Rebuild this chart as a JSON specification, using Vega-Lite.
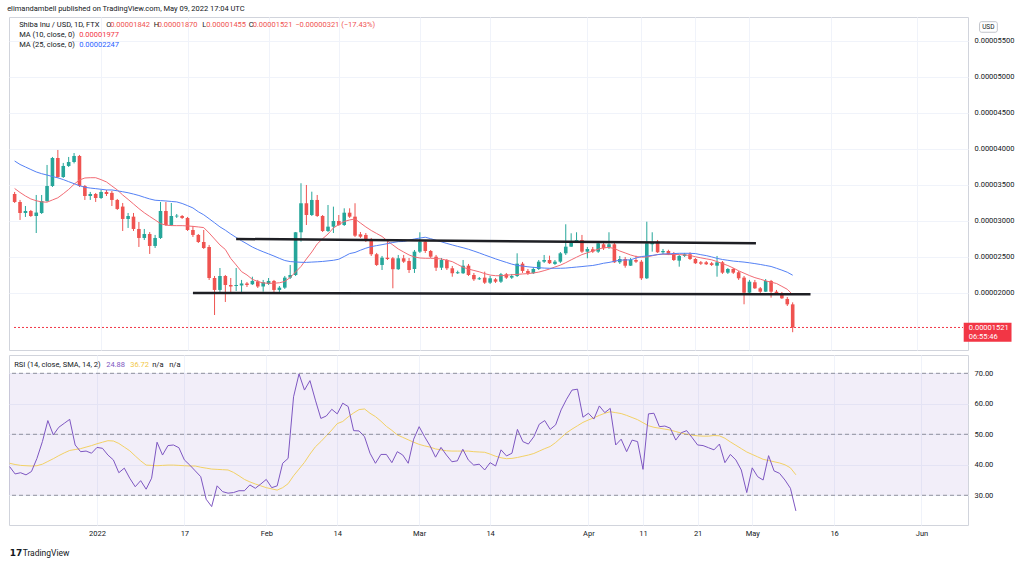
{
"$schema":"https://vega.github.io/schema/vega-lite/v6.json",
"background":"white",
"padding":{"left":7,"top":5,"right":4,"bottom":0},
"title":{"text":"elimandambell published on TradingView.com, May 09, 2022 17:04 UTC","anchor":"start","fontSize":7.5,"font":"Roboto","fontWeight":"normal","color":"#131722","offset":4},
"config":{"font":"Roboto","view":{"stroke":"#D1D4DC","strokeWidth":1},"axis":{"labelFont":"Roboto","labelFontSize":7.5,"labelColor":"#131722","gridColor":"#F0F3FA","gridWidth":1,"tickSize":0,"domain":false},"text":{"font":"Roboto","fontSize":7.5,"align":"left","baseline":"middle"}},
"datasets":{
"p":[
{"d":"2021-12-16","o":33.75e-6,"h":34.03e-6,"l":32.50e-6,"c":32.64e-6,"m10":34.51e-6,"m25":38.33e-6,"r":39.4,"rm":40.5},
{"d":"2021-12-17","o":32.64e-6,"h":32.92e-6,"l":30.14e-6,"c":31.11e-6,"m10":33.96e-6,"m25":37.85e-6,"r":37.0,"rm":40.1},
{"d":"2021-12-18","o":31.11e-6,"h":32.08e-6,"l":30.56e-6,"c":31.39e-6,"m10":33.47e-6,"m25":37.50e-6,"r":37.4,"rm":39.8},
{"d":"2021-12-19","o":31.39e-6,"h":31.53e-6,"l":30.56e-6,"c":30.69e-6,"m10":33.06e-6,"m25":37.15e-6,"r":36.7,"rm":39.7},
{"d":"2021-12-20","o":30.69e-6,"h":33.61e-6,"l":28.33e-6,"c":31.17e-6,"m10":32.81e-6,"m25":36.81e-6,"r":37.8,"rm":39.6},
{"d":"2021-12-21","o":31.11e-6,"h":33.61e-6,"l":30.97e-6,"c":32.78e-6,"m10":32.65e-6,"m25":36.57e-6,"r":42.1,"rm":39.7},
{"d":"2021-12-22","o":32.78e-6,"h":37.78e-6,"l":32.64e-6,"c":34.86e-6,"m10":32.61e-6,"m25":36.38e-6,"r":47.6,"rm":40.2},
{"d":"2021-12-23","o":34.86e-6,"h":38.89e-6,"l":34.72e-6,"c":38.75e-6,"m10":32.92e-6,"m25":36.17e-6,"r":54.5,"rm":41.1},
{"d":"2021-12-24","o":38.75e-6,"h":39.86e-6,"l":35.97e-6,"c":36.11e-6,"m10":33.22e-6,"m25":35.99e-6,"r":49.8,"rm":42.0},
{"d":"2021-12-25","o":36.11e-6,"h":38.06e-6,"l":35.97e-6,"c":37.64e-6,"m10":33.78e-6,"m25":35.75e-6,"r":52.3,"rm":43.0},
{"d":"2021-12-26","o":37.64e-6,"h":38.89e-6,"l":37.50e-6,"c":38.19e-6,"m10":34.38e-6,"m25":35.46e-6,"r":53.6,"rm":43.9},
{"d":"2021-12-27","o":38.19e-6,"h":39.44e-6,"l":38.00e-6,"c":39.03e-6,"m10":35.10e-6,"m25":35.18e-6,"r":54.9,"rm":44.7},
{"d":"2021-12-28","o":39.03e-6,"h":39.17e-6,"l":34.72e-6,"c":34.86e-6,"m10":35.69e-6,"m25":34.90e-6,"r":46.5,"rm":45.0},
{"d":"2021-12-29","o":34.86e-6,"h":35.00e-6,"l":32.92e-6,"c":33.47e-6,"m10":35.97e-6,"m25":34.68e-6,"r":44.3,"rm":45.3},
{"d":"2021-12-30","o":33.47e-6,"h":34.03e-6,"l":32.92e-6,"c":33.75e-6,"m10":36.01e-6,"m25":34.57e-6,"r":44.5,"rm":45.8},
{"d":"2021-12-31","o":33.75e-6,"h":33.89e-6,"l":32.64e-6,"c":33.19e-6,"m10":36.01e-6,"m25":34.49e-6,"r":43.8,"rm":46.3},
{"d":"2022-01-01","o":33.19e-6,"h":34.31e-6,"l":33.06e-6,"c":34.03e-6,"m10":35.74e-6,"m25":34.40e-6,"r":45.7,"rm":46.9},
{"d":"2022-01-02","o":34.03e-6,"h":34.31e-6,"l":33.47e-6,"c":33.75e-6,"m10":35.42e-6,"m25":34.31e-6,"r":45.4,"rm":47.4},
{"d":"2022-01-03","o":33.90e-6,"h":34.17e-6,"l":32.08e-6,"c":32.92e-6,"m10":34.86e-6,"m25":34.31e-6,"r":43.2,"rm":47.9},
{"d":"2022-01-04","o":32.92e-6,"h":33.06e-6,"l":31.53e-6,"c":31.67e-6,"m10":34.31e-6,"m25":34.19e-6,"r":41.6,"rm":47.8},
{"d":"2022-01-05","o":32.00e-6,"h":32.50e-6,"l":28.61e-6,"c":30.28e-6,"m10":33.61e-6,"m25":34.06e-6,"r":37.4,"rm":47.0},
{"d":"2022-01-06","o":30.28e-6,"h":31.11e-6,"l":29.03e-6,"c":30.69e-6,"m10":33.00e-6,"m25":33.92e-6,"r":38.9,"rm":45.8},
{"d":"2022-01-07","o":30.60e-6,"h":31.11e-6,"l":28.61e-6,"c":28.89e-6,"m10":32.36e-6,"m25":33.74e-6,"r":35.6,"rm":44.6},
{"d":"2022-01-08","o":28.89e-6,"h":29.86e-6,"l":26.39e-6,"c":27.64e-6,"m10":31.72e-6,"m25":33.54e-6,"r":32.8,"rm":42.9},
{"d":"2022-01-09","o":27.64e-6,"h":28.89e-6,"l":27.36e-6,"c":28.19e-6,"m10":31.14e-6,"m25":33.29e-6,"r":34.8,"rm":41.3},
{"d":"2022-01-10","o":28.19e-6,"h":28.47e-6,"l":25.42e-6,"c":26.53e-6,"m10":30.63e-6,"m25":33.06e-6,"r":32.0,"rm":39.9},
{"d":"2022-01-11","o":26.53e-6,"h":28.06e-6,"l":26.25e-6,"c":27.64e-6,"m10":30.14e-6,"m25":32.88e-6,"r":35.6,"rm":39.8},
{"d":"2022-01-12","o":27.64e-6,"h":32.64e-6,"l":27.50e-6,"c":31.39e-6,"m10":29.63e-6,"m25":32.83e-6,"r":47.4,"rm":39.7},
{"d":"2022-01-13","o":31.39e-6,"h":32.64e-6,"l":29.31e-6,"c":29.44e-6,"m10":29.42e-6,"m25":32.78e-6,"r":43.2,"rm":39.8},
{"d":"2022-01-14","o":29.44e-6,"h":32.50e-6,"l":29.31e-6,"c":30.69e-6,"m10":29.36e-6,"m25":32.71e-6,"r":46.3,"rm":39.9},
{"d":"2022-01-15","o":30.63e-6,"h":30.97e-6,"l":30.42e-6,"c":30.74e-6,"m10":29.35e-6,"m25":32.65e-6,"r":46.5,"rm":39.9},
{"d":"2022-01-16","o":30.69e-6,"h":30.83e-6,"l":30.28e-6,"c":30.42e-6,"m10":29.35e-6,"m25":32.43e-6,"r":45.6,"rm":39.8},
{"d":"2022-01-17","o":30.42e-6,"h":30.56e-6,"l":28.61e-6,"c":28.75e-6,"m10":29.31e-6,"m25":32.13e-6,"r":41.6,"rm":39.7},
{"d":"2022-01-18","o":28.75e-6,"h":29.31e-6,"l":27.78e-6,"c":28.06e-6,"m10":29.25e-6,"m25":31.81e-6,"r":39.9,"rm":39.6},
{"d":"2022-01-19","o":28.06e-6,"h":28.19e-6,"l":26.94e-6,"c":27.08e-6,"m10":29.17e-6,"m25":31.28e-6,"r":38.0,"rm":39.6},
{"d":"2022-01-20","o":27.08e-6,"h":28.75e-6,"l":26.11e-6,"c":26.25e-6,"m10":29.08e-6,"m25":30.86e-6,"r":36.1,"rm":39.2},
{"d":"2022-01-21","o":26.39e-6,"h":26.67e-6,"l":21.81e-6,"c":22.08e-6,"m10":28.33e-6,"m25":30.31e-6,"r":28.7,"rm":38.9},
{"d":"2022-01-22","o":22.08e-6,"h":22.36e-6,"l":16.94e-6,"c":20.42e-6,"m10":27.50e-6,"m25":29.75e-6,"r":26.3,"rm":38.6},
{"d":"2022-01-23","o":20.42e-6,"h":23.47e-6,"l":20.14e-6,"c":22.36e-6,"m10":26.67e-6,"m25":29.18e-6,"r":33.1,"rm":38.5},
{"d":"2022-01-24","o":22.36e-6,"h":22.50e-6,"l":18.75e-6,"c":21.11e-6,"m10":26.04e-6,"m25":28.72e-6,"r":31.2,"rm":38.4},
{"d":"2022-01-25","o":21.11e-6,"h":22.08e-6,"l":20.14e-6,"c":20.90e-6,"m10":24.79e-6,"m25":28.19e-6,"r":30.7,"rm":38.3},
{"d":"2022-01-26","o":20.97e-6,"h":23.47e-6,"l":20.28e-6,"c":21.11e-6,"m10":23.89e-6,"m25":27.71e-6,"r":30.9,"rm":37.5},
{"d":"2022-01-27","o":21.04e-6,"h":21.81e-6,"l":20.14e-6,"c":21.32e-6,"m10":22.96e-6,"m25":27.25e-6,"r":31.5,"rm":36.4},
{"d":"2022-01-28","o":21.32e-6,"h":21.53e-6,"l":20.83e-6,"c":21.11e-6,"m10":22.50e-6,"m25":26.82e-6,"r":31.5,"rm":35.2},
{"d":"2022-01-29","o":21.21e-6,"h":22.26e-6,"l":21.11e-6,"c":21.67e-6,"m10":21.89e-6,"m25":26.38e-6,"r":33.4,"rm":34.4},
{"d":"2022-01-30","o":21.60e-6,"h":21.81e-6,"l":20.69e-6,"c":20.90e-6,"m10":21.60e-6,"m25":26.03e-6,"r":32.3,"rm":33.7},
{"d":"2022-01-31","o":20.90e-6,"h":21.81e-6,"l":20.18e-6,"c":21.49e-6,"m10":21.39e-6,"m25":25.72e-6,"r":33.7,"rm":33.1},
{"d":"2022-02-01","o":21.25e-6,"h":22.08e-6,"l":21.11e-6,"c":21.67e-6,"m10":21.35e-6,"m25":25.43e-6,"r":35.2,"rm":32.5},
{"d":"2022-02-02","o":21.67e-6,"h":21.81e-6,"l":20.14e-6,"c":20.42e-6,"m10":21.35e-6,"m25":25.13e-6,"r":32.5,"rm":32.1},
{"d":"2022-02-03","o":20.42e-6,"h":20.97e-6,"l":20.14e-6,"c":20.74e-6,"m10":21.42e-6,"m25":24.81e-6,"r":33.1,"rm":31.7},
{"d":"2022-02-04","o":20.74e-6,"h":22.36e-6,"l":20.56e-6,"c":22.13e-6,"m10":21.60e-6,"m25":24.51e-6,"r":40.5,"rm":32.5},
{"d":"2022-02-05","o":22.13e-6,"h":23.89e-6,"l":21.94e-6,"c":22.50e-6,"m10":22.15e-6,"m25":24.36e-6,"r":42.1,"rm":33.8},
{"d":"2022-02-06","o":22.50e-6,"h":28.47e-6,"l":22.36e-6,"c":28.43e-6,"m10":22.92e-6,"m25":24.31e-6,"r":62.3,"rm":36.4},
{"d":"2022-02-07","o":28.43e-6,"h":35.24e-6,"l":27.13e-6,"c":32.46e-6,"m10":23.68e-6,"m25":24.26e-6,"r":69.8,"rm":38.6},
{"d":"2022-02-08","o":32.46e-6,"h":35.00e-6,"l":29.44e-6,"c":30.83e-6,"m10":24.72e-6,"m25":24.25e-6,"r":64.5,"rm":40.8},
{"d":"2022-02-09","o":30.83e-6,"h":34.07e-6,"l":30.69e-6,"c":32.92e-6,"m10":25.69e-6,"m25":24.29e-6,"r":67.6,"rm":43.5},
{"d":"2022-02-10","o":32.92e-6,"h":33.61e-6,"l":30.56e-6,"c":30.69e-6,"m10":26.81e-6,"m25":24.33e-6,"r":61.2,"rm":45.9},
{"d":"2022-02-11","o":30.69e-6,"h":30.83e-6,"l":28.47e-6,"c":28.61e-6,"m10":27.53e-6,"m25":24.38e-6,"r":55.2,"rm":47.6},
{"d":"2022-02-12","o":28.61e-6,"h":32.22e-6,"l":28.47e-6,"c":29.21e-6,"m10":28.19e-6,"m25":24.46e-6,"r":56.0,"rm":49.5},
{"d":"2022-02-13","o":29.21e-6,"h":31.99e-6,"l":28.33e-6,"c":30.00e-6,"m10":29.03e-6,"m25":24.54e-6,"r":58.2,"rm":51.4},
{"d":"2022-02-14","o":30.00e-6,"h":30.83e-6,"l":29.31e-6,"c":29.44e-6,"m10":29.51e-6,"m25":24.69e-6,"r":56.7,"rm":53.5},
{"d":"2022-02-15","o":29.44e-6,"h":31.76e-6,"l":29.31e-6,"c":31.15e-6,"m10":29.93e-6,"m25":25.07e-6,"r":60.2,"rm":54.2},
{"d":"2022-02-16","o":31.15e-6,"h":31.76e-6,"l":30.42e-6,"c":30.60e-6,"m10":30.14e-6,"m25":25.47e-6,"r":59.1,"rm":55.7},
{"d":"2022-02-17","o":30.60e-6,"h":32.46e-6,"l":27.78e-6,"c":27.96e-6,"m10":30.28e-6,"m25":25.63e-6,"r":51.2,"rm":57.0},
{"d":"2022-02-18","o":28.15e-6,"h":28.47e-6,"l":27.64e-6,"c":27.82e-6,"m10":29.72e-6,"m25":25.94e-6,"r":51.1,"rm":58.1},
{"d":"2022-02-19","o":28.06e-6,"h":28.33e-6,"l":27.08e-6,"c":27.36e-6,"m10":29.17e-6,"m25":26.22e-6,"r":49.2,"rm":58.3},
{"d":"2022-02-20","o":27.46e-6,"h":27.64e-6,"l":25.14e-6,"c":25.38e-6,"m10":28.68e-6,"m25":26.44e-6,"r":43.8,"rm":56.9},
{"d":"2022-02-21","o":25.38e-6,"h":25.56e-6,"l":23.75e-6,"c":23.89e-6,"m10":28.26e-6,"m25":26.58e-6,"r":40.5,"rm":55.8},
{"d":"2022-02-22","o":23.89e-6,"h":25.14e-6,"l":23.19e-6,"c":24.90e-6,"m10":27.85e-6,"m25":26.71e-6,"r":43.4,"rm":54.3},
{"d":"2022-02-23","o":24.90e-6,"h":27.36e-6,"l":24.58e-6,"c":24.72e-6,"m10":27.22e-6,"m25":26.85e-6,"r":43.4,"rm":52.6},
{"d":"2022-02-24","o":24.82e-6,"h":25.00e-6,"l":20.65e-6,"c":23.30e-6,"m10":26.67e-6,"m25":27.01e-6,"r":40.7,"rm":51.3},
{"d":"2022-02-25","o":23.30e-6,"h":25.28e-6,"l":23.20e-6,"c":24.82e-6,"m10":26.11e-6,"m25":27.13e-6,"r":44.3,"rm":49.8},
{"d":"2022-02-26","o":24.82e-6,"h":25.28e-6,"l":24.17e-6,"c":24.35e-6,"m10":25.69e-6,"m25":27.15e-6,"r":43.2,"rm":49.0},
{"d":"2022-02-27","o":24.44e-6,"h":24.86e-6,"l":22.78e-6,"c":23.19e-6,"m10":25.28e-6,"m25":27.33e-6,"r":40.5,"rm":48.2},
{"d":"2022-02-28","o":23.33e-6,"h":25.97e-6,"l":22.78e-6,"c":25.74e-6,"m10":25.00e-6,"m25":27.50e-6,"r":48.4,"rm":47.4},
{"d":"2022-03-01","o":25.74e-6,"h":28.43e-6,"l":25.56e-6,"c":27.13e-6,"m10":24.86e-6,"m25":27.63e-6,"r":52.5,"rm":46.7},
{"d":"2022-03-02","o":27.13e-6,"h":27.36e-6,"l":25.56e-6,"c":25.83e-6,"m10":24.82e-6,"m25":27.74e-6,"r":49.2,"rm":46.2},
{"d":"2022-03-03","o":25.83e-6,"h":25.97e-6,"l":24.86e-6,"c":25.04e-6,"m10":24.82e-6,"m25":27.54e-6,"r":46.2,"rm":45.8},
{"d":"2022-03-04","o":25.04e-6,"h":25.28e-6,"l":23.06e-6,"c":23.51e-6,"m10":24.79e-6,"m25":27.32e-6,"r":42.5,"rm":45.2},
{"d":"2022-03-05","o":23.51e-6,"h":24.86e-6,"l":23.19e-6,"c":24.58e-6,"m10":24.72e-6,"m25":27.10e-6,"r":45.7,"rm":44.9},
{"d":"2022-03-06","o":24.58e-6,"h":24.72e-6,"l":23.19e-6,"c":23.43e-6,"m10":24.54e-6,"m25":26.88e-6,"r":43.2,"rm":44.6},
{"d":"2022-03-07","o":23.43e-6,"h":23.75e-6,"l":22.26e-6,"c":22.74e-6,"m10":24.35e-6,"m25":26.67e-6,"r":41.0,"rm":44.5},
{"d":"2022-03-08","o":22.74e-6,"h":23.10e-6,"l":22.64e-6,"c":22.88e-6,"m10":23.96e-6,"m25":26.47e-6,"r":41.3,"rm":44.5},
{"d":"2022-03-09","o":22.74e-6,"h":24.58e-6,"l":22.64e-6,"c":23.79e-6,"m10":23.57e-6,"m25":26.28e-6,"r":45.1,"rm":44.5},
{"d":"2022-03-10","o":23.79e-6,"h":24.03e-6,"l":22.36e-6,"c":22.50e-6,"m10":23.32e-6,"m25":26.07e-6,"r":41.6,"rm":44.5},
{"d":"2022-03-11","o":22.50e-6,"h":22.78e-6,"l":21.67e-6,"c":21.90e-6,"m10":23.13e-6,"m25":25.82e-6,"r":39.9,"rm":44.3},
{"d":"2022-03-12","o":21.90e-6,"h":22.22e-6,"l":21.81e-6,"c":22.04e-6,"m10":22.94e-6,"m25":25.56e-6,"r":40.2,"rm":44.2},
{"d":"2022-03-13","o":22.13e-6,"h":22.96e-6,"l":21.25e-6,"c":21.43e-6,"m10":22.69e-6,"m25":25.28e-6,"r":38.3,"rm":44.1},
{"d":"2022-03-14","o":21.43e-6,"h":22.36e-6,"l":21.25e-6,"c":22.04e-6,"m10":22.49e-6,"m25":25.01e-6,"r":40.7,"rm":43.5},
{"d":"2022-03-15","o":21.90e-6,"h":22.08e-6,"l":21.39e-6,"c":21.57e-6,"m10":22.40e-6,"m25":24.74e-6,"r":39.6,"rm":42.8},
{"d":"2022-03-16","o":21.57e-6,"h":22.78e-6,"l":21.39e-6,"c":22.60e-6,"m10":22.39e-6,"m25":24.49e-6,"r":44.9,"rm":42.3},
{"d":"2022-03-17","o":22.60e-6,"h":22.78e-6,"l":21.95e-6,"c":22.13e-6,"m10":22.47e-6,"m25":24.25e-6,"r":42.9,"rm":42.0},
{"d":"2022-03-18","o":22.13e-6,"h":22.64e-6,"l":21.95e-6,"c":22.36e-6,"m10":22.53e-6,"m25":24.01e-6,"r":43.8,"rm":42.1},
{"d":"2022-03-19","o":22.36e-6,"h":25.51e-6,"l":22.22e-6,"c":24.07e-6,"m10":22.58e-6,"m25":23.83e-6,"r":51.6,"rm":42.4},
{"d":"2022-03-20","o":24.07e-6,"h":24.31e-6,"l":22.78e-6,"c":23.06e-6,"m10":22.64e-6,"m25":23.74e-6,"r":47.6,"rm":42.8},
{"d":"2022-03-21","o":23.06e-6,"h":23.33e-6,"l":22.50e-6,"c":22.74e-6,"m10":22.69e-6,"m25":23.64e-6,"r":46.8,"rm":43.2},
{"d":"2022-03-22","o":22.74e-6,"h":23.61e-6,"l":22.64e-6,"c":23.33e-6,"m10":22.78e-6,"m25":23.56e-6,"r":49.2,"rm":43.7},
{"d":"2022-03-23","o":23.33e-6,"h":24.58e-6,"l":23.19e-6,"c":24.35e-6,"m10":22.90e-6,"m25":23.51e-6,"r":53.3,"rm":44.5},
{"d":"2022-03-24","o":24.35e-6,"h":25.28e-6,"l":24.17e-6,"c":24.58e-6,"m10":23.10e-6,"m25":23.46e-6,"r":54.5,"rm":45.3},
{"d":"2022-03-25","o":24.58e-6,"h":25.18e-6,"l":24.03e-6,"c":24.13e-6,"m10":23.33e-6,"m25":23.43e-6,"r":51.6,"rm":46.0},
{"d":"2022-03-26","o":24.03e-6,"h":24.58e-6,"l":23.89e-6,"c":24.35e-6,"m10":23.61e-6,"m25":23.43e-6,"r":53.1,"rm":47.3},
{"d":"2022-03-27","o":24.35e-6,"h":25.69e-6,"l":24.17e-6,"c":25.51e-6,"m10":23.86e-6,"m25":23.43e-6,"r":58.0,"rm":48.9},
{"d":"2022-03-28","o":25.51e-6,"h":29.54e-6,"l":25.28e-6,"c":26.43e-6,"m10":24.21e-6,"m25":23.46e-6,"r":61.5,"rm":50.5},
{"d":"2022-03-29","o":26.43e-6,"h":28.29e-6,"l":26.39e-6,"c":27.22e-6,"m10":24.60e-6,"m25":23.53e-6,"r":64.5,"rm":51.7},
{"d":"2022-03-30","o":27.13e-6,"h":28.43e-6,"l":26.94e-6,"c":27.36e-6,"m10":24.97e-6,"m25":23.60e-6,"r":64.8,"rm":52.8},
{"d":"2022-03-31","o":27.36e-6,"h":28.06e-6,"l":25.56e-6,"c":25.74e-6,"m10":25.33e-6,"m25":23.67e-6,"r":55.6,"rm":53.9},
{"d":"2022-04-01","o":25.74e-6,"h":26.39e-6,"l":24.82e-6,"c":26.11e-6,"m10":25.58e-6,"m25":23.75e-6,"r":56.9,"rm":54.7},
{"d":"2022-04-02","o":26.07e-6,"h":26.39e-6,"l":25.56e-6,"c":25.74e-6,"m10":25.83e-6,"m25":23.82e-6,"r":55.0,"rm":55.4},
{"d":"2022-04-03","o":25.74e-6,"h":27.22e-6,"l":25.56e-6,"c":26.90e-6,"m10":26.08e-6,"m25":23.96e-6,"r":59.3,"rm":56.2},
{"d":"2022-04-04","o":26.76e-6,"h":27.22e-6,"l":25.97e-6,"c":26.21e-6,"m10":26.28e-6,"m25":24.13e-6,"r":57.1,"rm":56.9},
{"d":"2022-04-05","o":26.35e-6,"h":28.43e-6,"l":26.11e-6,"c":26.76e-6,"m10":26.32e-6,"m25":24.24e-6,"r":58.5,"rm":57.4},
{"d":"2022-04-06","o":26.76e-6,"h":26.94e-6,"l":24.17e-6,"c":24.26e-6,"m10":26.18e-6,"m25":24.40e-6,"r":46.5,"rm":57.1},
{"d":"2022-04-07","o":24.26e-6,"h":25.14e-6,"l":24.03e-6,"c":24.72e-6,"m10":25.83e-6,"m25":24.56e-6,"r":48.4,"rm":56.8},
{"d":"2022-04-08","o":24.72e-6,"h":25.00e-6,"l":23.51e-6,"c":23.79e-6,"m10":25.56e-6,"m25":24.58e-6,"r":44.3,"rm":56.2},
{"d":"2022-04-09","o":23.79e-6,"h":24.86e-6,"l":23.75e-6,"c":24.58e-6,"m10":25.28e-6,"m25":24.61e-6,"r":48.1,"rm":55.5},
{"d":"2022-04-10","o":24.58e-6,"h":25.18e-6,"l":24.17e-6,"c":24.35e-6,"m10":25.06e-6,"m25":24.85e-6,"r":47.6,"rm":54.8},
{"d":"2022-04-11","o":24.35e-6,"h":24.58e-6,"l":21.81e-6,"c":22.04e-6,"m10":24.97e-6,"m25":25.06e-6,"r":38.5,"rm":53.8},
{"d":"2022-04-12","o":22.04e-6,"h":29.90e-6,"l":21.94e-6,"c":26.90e-6,"m10":25.00e-6,"m25":25.14e-6,"r":56.7,"rm":52.8},
{"d":"2022-04-13","o":26.76e-6,"h":28.43e-6,"l":25.74e-6,"c":26.99e-6,"m10":25.17e-6,"m25":25.22e-6,"r":56.9,"rm":52.3},
{"d":"2022-04-14","o":27.13e-6,"h":27.36e-6,"l":25.56e-6,"c":25.65e-6,"m10":25.33e-6,"m25":25.33e-6,"r":52.5,"rm":52.0},
{"d":"2022-04-15","o":25.65e-6,"h":26.11e-6,"l":25.38e-6,"c":25.83e-6,"m10":25.39e-6,"m25":25.42e-6,"r":52.7,"rm":51.7},
{"d":"2022-04-16","o":25.83e-6,"h":26.00e-6,"l":25.28e-6,"c":25.38e-6,"m10":25.33e-6,"m25":25.44e-6,"r":52.0,"rm":51.4},
{"d":"2022-04-17","o":25.51e-6,"h":25.69e-6,"l":24.44e-6,"c":24.58e-6,"m10":25.35e-6,"m25":25.47e-6,"r":48.1,"rm":50.9},
{"d":"2022-04-18","o":24.49e-6,"h":25.28e-6,"l":23.65e-6,"c":25.14e-6,"m10":25.33e-6,"m25":25.51e-6,"r":50.5,"rm":50.4},
{"d":"2022-04-19","o":25.14e-6,"h":25.56e-6,"l":25.00e-6,"c":25.38e-6,"m10":25.29e-6,"m25":25.51e-6,"r":51.2,"rm":50.0},
{"d":"2022-04-20","o":25.38e-6,"h":25.65e-6,"l":24.58e-6,"c":24.72e-6,"m10":25.21e-6,"m25":25.51e-6,"r":48.9,"rm":49.7},
{"d":"2022-04-21","o":24.72e-6,"h":24.86e-6,"l":24.03e-6,"c":24.13e-6,"m10":25.03e-6,"m25":25.47e-6,"r":46.5,"rm":49.5},
{"d":"2022-04-22","o":24.26e-6,"h":24.44e-6,"l":23.89e-6,"c":24.07e-6,"m10":24.88e-6,"m25":25.32e-6,"r":46.3,"rm":49.4},
{"d":"2022-04-23","o":24.26e-6,"h":24.44e-6,"l":23.89e-6,"c":23.99e-6,"m10":24.74e-6,"m25":25.19e-6,"r":45.6,"rm":49.4},
{"d":"2022-04-24","o":24.13e-6,"h":24.31e-6,"l":23.75e-6,"c":23.89e-6,"m10":24.61e-6,"m25":25.01e-6,"r":44.9,"rm":49.6},
{"d":"2022-04-25","o":23.79e-6,"h":25.14e-6,"l":22.26e-6,"c":24.26e-6,"m10":24.36e-6,"m25":24.81e-6,"r":46.8,"rm":49.5},
{"d":"2022-04-26","o":24.26e-6,"h":24.44e-6,"l":22.64e-6,"c":22.82e-6,"m10":24.08e-6,"m25":24.65e-6,"r":40.7,"rm":48.7},
{"d":"2022-04-27","o":22.82e-6,"h":23.47e-6,"l":22.64e-6,"c":23.33e-6,"m10":23.81e-6,"m25":24.54e-6,"r":43.4,"rm":47.5},
{"d":"2022-04-28","o":23.33e-6,"h":23.47e-6,"l":22.64e-6,"c":22.82e-6,"m10":23.47e-6,"m25":24.43e-6,"r":41.6,"rm":46.4},
{"d":"2022-04-29","o":22.88e-6,"h":23.06e-6,"l":21.81e-6,"c":22.04e-6,"m10":23.08e-6,"m25":24.36e-6,"r":38.3,"rm":45.3},
{"d":"2022-04-30","o":22.13e-6,"h":22.36e-6,"l":18.43e-6,"c":20.04e-6,"m10":22.75e-6,"m25":24.29e-6,"r":30.9,"rm":44.2},
{"d":"2022-05-01","o":20.04e-6,"h":21.81e-6,"l":19.86e-6,"c":21.57e-6,"m10":22.42e-6,"m25":24.19e-6,"r":39.0,"rm":43.4},
{"d":"2022-05-02","o":21.49e-6,"h":21.81e-6,"l":20.56e-6,"c":20.65e-6,"m10":22.13e-6,"m25":24.08e-6,"r":36.1,"rm":42.6},
{"d":"2022-05-03","o":20.65e-6,"h":20.83e-6,"l":20.00e-6,"c":20.18e-6,"m10":21.92e-6,"m25":23.96e-6,"r":35.0,"rm":41.8},
{"d":"2022-05-04","o":20.18e-6,"h":21.94e-6,"l":20.14e-6,"c":21.67e-6,"m10":21.68e-6,"m25":23.82e-6,"r":43.0,"rm":41.4},
{"d":"2022-05-05","o":21.67e-6,"h":21.81e-6,"l":19.35e-6,"c":20.18e-6,"m10":21.50e-6,"m25":23.68e-6,"r":38.0,"rm":41.0},
{"d":"2022-05-06","o":20.18e-6,"h":20.42e-6,"l":19.72e-6,"c":19.90e-6,"m10":21.32e-6,"m25":23.43e-6,"r":37.2,"rm":40.6},
{"d":"2022-05-07","o":19.90e-6,"h":20.14e-6,"l":19.17e-6,"c":19.26e-6,"m10":20.92e-6,"m25":23.17e-6,"r":35.0,"rm":40.0},
{"d":"2022-05-08","o":19.17e-6,"h":19.44e-6,"l":18.19e-6,"c":18.42e-6,"m10":20.51e-6,"m25":22.88e-6,"r":32.3,"rm":39.0},
{"d":"2022-05-09","o":18.42e-6,"h":18.70e-6,"l":14.55e-6,"c":15.21e-6,"m10":19.77e-6,"m25":22.47e-6,"r":24.88,"rm":36.72}
],
"tl":[
{"ln":"up","t":"2022-01-26T00:00:00Z","p":27.5e-6},
{"ln":"up","t":"2022-05-02T04:48:00Z","p":26.92e-6},
{"ln":"lo","t":"2022-01-18T00:00:00Z","p":20.0e-6},
{"ln":"lo","t":"2022-05-12T07:12:00Z","p":19.82e-6}
]
},
"spacing":3,
"resolve":{"scale":{"x":"independent","y":"independent"}},
"vconcat":[
{
"width":959,"height":333,
"layer":[
{"data":{"name":"p"},"mark":{"type":"rule","strokeWidth":1,"clip":true},
 "encoding":{
  "x":{"field":"d","type":"temporal","title":null,"scale":{"type":"utc","nice":false,"domain":[{"year":2021,"month":12,"date":15,"hours":21,"minutes":12,"utc":true},{"year":2022,"month":6,"date":9,"hours":12,"minutes":30,"utc":true}]},
   "axis":{"labels":false,"grid":true,"ticks":false,"domain":false,"title":null,"values":[{"year":2022,"month":1,"date":1,"utc":true},{"year":2022,"month":1,"date":17,"utc":true},{"year":2022,"month":2,"date":1,"utc":true},{"year":2022,"month":2,"date":14,"utc":true},{"year":2022,"month":3,"date":1,"utc":true},{"year":2022,"month":3,"date":14,"utc":true},{"year":2022,"month":4,"date":1,"utc":true},{"year":2022,"month":4,"date":11,"utc":true},{"year":2022,"month":4,"date":21,"utc":true},{"year":2022,"month":5,"date":1,"utc":true},{"year":2022,"month":5,"date":16,"utc":true},{"year":2022,"month":6,"date":1,"utc":true}]}},
  "y":{"field":"l","type":"quantitative","title":null,"scale":{"domain":[12.08e-6,58.33e-6],"nice":false,"zero":false},
   "axis":{"orient":"right","title":null,"format":".8f","grid":true,"labelPadding":6,"values":[20e-6,25e-6,30e-6,35e-6,40e-6,45e-6,50e-6,55e-6]}},
  "y2":{"field":"h"},
  "color":{"condition":{"test":"datum.c >= datum.o","value":"#26A69A"},"value":"#EF5350"}}},
{"data":{"name":"p"},"mark":{"type":"bar","size":3.6,"clip":true},
 "encoding":{"x":{"field":"d","type":"temporal"},"y":{"field":"o","type":"quantitative"},"y2":{"field":"c"},
  "color":{"condition":{"test":"datum.c >= datum.o","value":"#26A69A"},"value":"#EF5350"}}},
{"data":{"name":"p"},"mark":{"type":"line","strokeWidth":1,"color":"#F26B74","clip":true},
 "encoding":{"x":{"field":"d","type":"temporal"},"y":{"field":"m10","type":"quantitative"}}},
{"data":{"name":"p"},"mark":{"type":"line","strokeWidth":1,"color":"#5481F5","clip":true},
 "encoding":{"x":{"field":"d","type":"temporal"},"y":{"field":"m25","type":"quantitative"}}},
{"data":{"name":"tl"},"mark":{"type":"line","strokeWidth":2.5,"color":"#1E1F24"},
 "encoding":{"x":{"field":"t","type":"temporal"},"y":{"field":"p","type":"quantitative"},"detail":{"field":"ln","type":"nominal"}}},
{"data":{"values":[{}]},"mark":{"type":"rect","color":"#F23645"},
 "encoding":{"x":{"datum":{"year":2022,"month":6,"date":9,"hours":15,"minutes":36,"utc":true},"type":"temporal"},"x2":{"datum":{"year":2022,"month":6,"date":18,"hours":12,"utc":true}},"y":{"datum":15.87e-6,"type":"quantitative"},"y2":{"datum":13.23e-6}}},
{"data":{"values":[{}]},"mark":{"type":"text","text":"0.00001521","color":"white"},
 "encoding":{"x":{"datum":{"year":2022,"month":6,"date":10,"hours":14,"utc":true},"type":"temporal"},"y":{"datum":15.18e-6,"type":"quantitative"}}},
{"data":{"values":[{}]},"mark":{"type":"text","text":"06:55:46","color":"white"},
 "encoding":{"x":{"datum":{"year":2022,"month":6,"date":10,"hours":14,"utc":true},"type":"temporal"},"y":{"datum":13.89e-6,"type":"quantitative"}}},
{"data":{"values":[{}]},"mark":{"type":"rect","fill":"white","stroke":"#B2B5BE","strokeWidth":0.8,"cornerRadius":2},
 "encoding":{"x":{"datum":{"year":2022,"month":6,"date":12,"hours":14,"utc":true},"type":"temporal"},"x2":{"datum":{"year":2022,"month":6,"date":15,"hours":21,"utc":true}},"y":{"datum":57.68e-6,"type":"quantitative"},"y2":{"datum":56.21e-6}}},
{"data":{"values":[{}]},"mark":{"type":"text","text":"USD","color":"#131722","fontSize":6.5,"align":"center"},
 "encoding":{"x":{"datum":{"year":2022,"month":6,"date":14,"hours":5,"utc":true},"type":"temporal"},"y":{"datum":56.94e-6,"type":"quantitative"}}},
{"data":{"values":[{}]},"mark":{"type":"text","text":"Shiba Inu / USD, 1D, FTX","color":"#131722"},
 "encoding":{"x":{"datum":{"year":2021,"month":12,"date":16,"hours":20,"utc":true},"type":"temporal"},"y":{"datum":57.22e-6,"type":"quantitative"}}},
{"data":{"values":[{}]},"mark":{"type":"text","text":"O","color":"#131722","dx":87},
 "encoding":{"x":{"datum":{"year":2021,"month":12,"date":16,"hours":20,"utc":true},"type":"temporal"},"y":{"datum":57.22e-6,"type":"quantitative"}}},
{"data":{"values":[{}]},"mark":{"type":"text","text":"0.00001842","color":"#EF5350","dx":91},
 "encoding":{"x":{"datum":{"year":2021,"month":12,"date":16,"hours":20,"utc":true},"type":"temporal"},"y":{"datum":57.22e-6,"type":"quantitative"}}},
{"data":{"values":[{}]},"mark":{"type":"text","text":"H","color":"#131722","dx":134.5},
 "encoding":{"x":{"datum":{"year":2021,"month":12,"date":16,"hours":20,"utc":true},"type":"temporal"},"y":{"datum":57.22e-6,"type":"quantitative"}}},
{"data":{"values":[{}]},"mark":{"type":"text","text":"0.00001870","color":"#EF5350","dx":138.5},
 "encoding":{"x":{"datum":{"year":2021,"month":12,"date":16,"hours":20,"utc":true},"type":"temporal"},"y":{"datum":57.22e-6,"type":"quantitative"}}},
{"data":{"values":[{}]},"mark":{"type":"text","text":"L","color":"#131722","dx":183},
 "encoding":{"x":{"datum":{"year":2021,"month":12,"date":16,"hours":20,"utc":true},"type":"temporal"},"y":{"datum":57.22e-6,"type":"quantitative"}}},
{"data":{"values":[{}]},"mark":{"type":"text","text":"0.00001455","color":"#EF5350","dx":187},
 "encoding":{"x":{"datum":{"year":2021,"month":12,"date":16,"hours":20,"utc":true},"type":"temporal"},"y":{"datum":57.22e-6,"type":"quantitative"}}},
{"data":{"values":[{}]},"mark":{"type":"text","text":"C","color":"#131722","dx":229.5},
 "encoding":{"x":{"datum":{"year":2021,"month":12,"date":16,"hours":20,"utc":true},"type":"temporal"},"y":{"datum":57.22e-6,"type":"quantitative"}}},
{"data":{"values":[{}]},"mark":{"type":"text","text":"0.00001521","color":"#EF5350","dx":233.5},
 "encoding":{"x":{"datum":{"year":2021,"month":12,"date":16,"hours":20,"utc":true},"type":"temporal"},"y":{"datum":57.22e-6,"type":"quantitative"}}},
{"data":{"values":[{}]},"mark":{"type":"text","text":"−0.00000321 (−17.43%)","color":"#EF5350","dx":276},
 "encoding":{"x":{"datum":{"year":2021,"month":12,"date":16,"hours":20,"utc":true},"type":"temporal"},"y":{"datum":57.22e-6,"type":"quantitative"}}},
{"data":{"values":[{}]},"mark":{"type":"text","text":"MA (10, close, 0)","color":"#131722"},
 "encoding":{"x":{"datum":{"year":2021,"month":12,"date":16,"hours":20,"utc":true},"type":"temporal"},"y":{"datum":55.83e-6,"type":"quantitative"}}},
{"data":{"values":[{}]},"mark":{"type":"text","text":"0.00001977","color":"#F23645","dx":60},
 "encoding":{"x":{"datum":{"year":2021,"month":12,"date":16,"hours":20,"utc":true},"type":"temporal"},"y":{"datum":55.83e-6,"type":"quantitative"}}},
{"data":{"values":[{}]},"mark":{"type":"text","text":"MA (25, close, 0)","color":"#131722"},
 "encoding":{"x":{"datum":{"year":2021,"month":12,"date":16,"hours":20,"utc":true},"type":"temporal"},"y":{"datum":54.38e-6,"type":"quantitative"}}},
{"data":{"values":[{}]},"mark":{"type":"text","text":"0.00002247","color":"#2962FF","dx":60},
 "encoding":{"x":{"datum":{"year":2021,"month":12,"date":16,"hours":20,"utc":true},"type":"temporal"},"y":{"datum":54.38e-6,"type":"quantitative"}}},
{"data":{"values":[{}]},"mark":{"type":"rule","color":"#F23645","strokeDash":[2,2],"strokeWidth":1},
 "encoding":{"x":{"datum":{"year":2021,"month":12,"date":15,"hours":21,"minutes":12,"utc":true},"type":"temporal"},"x2":{"datum":{"year":2022,"month":6,"date":9,"hours":12,"minutes":30,"utc":true}},"y":{"datum":15.21e-6,"type":"quantitative"}}}
]
},
{
"width":959,"height":170,
"layer":[
{"data":{"values":[{}]},"mark":{"type":"rect","color":"#7E57C2","opacity":0.1},
 "encoding":{"y":{"datum":70,"type":"quantitative","scale":{"domain":[20.26,76.0],"nice":false,"zero":false},
   "axis":{"orient":"right","title":null,"format":".2f","grid":true,"labelPadding":6,"values":[30,40,50,60,70]}},"y2":{"datum":30}}},
{"data":{"name":"p"},"mark":{"type":"line","strokeWidth":1,"color":"#F2D165"},
 "encoding":{
  "x":{"field":"d","type":"temporal","title":null,"scale":{"type":"utc","nice":false,"domain":[{"year":2021,"month":12,"date":15,"hours":21,"minutes":12,"utc":true},{"year":2022,"month":6,"date":9,"hours":12,"minutes":30,"utc":true}]},
   "axis":{"grid":true,"ticks":false,"domain":false,"title":null,"labelPadding":4,"labelExpr":"utcdate(datum.value) == 1 ? (utcmonth(datum.value) == 0 ? utcFormat(datum.value, '%Y') : utcFormat(datum.value, '%b')) : utcFormat(datum.value, '%-d')","values":[{"year":2022,"month":1,"date":1,"utc":true},{"year":2022,"month":1,"date":17,"utc":true},{"year":2022,"month":2,"date":1,"utc":true},{"year":2022,"month":2,"date":14,"utc":true},{"year":2022,"month":3,"date":1,"utc":true},{"year":2022,"month":3,"date":14,"utc":true},{"year":2022,"month":4,"date":1,"utc":true},{"year":2022,"month":4,"date":11,"utc":true},{"year":2022,"month":4,"date":21,"utc":true},{"year":2022,"month":5,"date":1,"utc":true},{"year":2022,"month":5,"date":16,"utc":true},{"year":2022,"month":6,"date":1,"utc":true}]}},
  "y":{"field":"rm","type":"quantitative","title":null}}},
{"data":{"name":"p"},"mark":{"type":"line","strokeWidth":1,"color":"#7E57C2"},
 "encoding":{"x":{"field":"d","type":"temporal"},"y":{"field":"r","type":"quantitative"}}},
{"data":{"values":[{"lv":70},{"lv":50},{"lv":30}]},"mark":{"type":"rule","color":"#787B86","strokeDash":[4,3],"strokeWidth":1,"opacity":0.8},
 "encoding":{"y":{"field":"lv","type":"quantitative"}}},
{"data":{"values":[{}]},"mark":{"type":"text","text":"RSI (14, close, SMA, 14, 2)","color":"#131722"},
 "encoding":{"x":{"datum":{"year":2021,"month":12,"date":16,"hours":20,"utc":true},"type":"temporal"},"y":{"datum":72.7,"type":"quantitative"}}},
{"data":{"values":[{}]},"mark":{"type":"text","text":"24.88","color":"#7E57C2","dx":92},
 "encoding":{"x":{"datum":{"year":2021,"month":12,"date":16,"hours":20,"utc":true},"type":"temporal"},"y":{"datum":72.7,"type":"quantitative"}}},
{"data":{"values":[{}]},"mark":{"type":"text","text":"36.72","color":"#F2C744","dx":116},
 "encoding":{"x":{"datum":{"year":2021,"month":12,"date":16,"hours":20,"utc":true},"type":"temporal"},"y":{"datum":72.7,"type":"quantitative"}}},
{"data":{"values":[{}]},"mark":{"type":"text","text":"n/a","color":"#131722","dx":138},
 "encoding":{"x":{"datum":{"year":2021,"month":12,"date":16,"hours":20,"utc":true},"type":"temporal"},"y":{"datum":72.7,"type":"quantitative"}}},
{"data":{"values":[{}]},"mark":{"type":"text","text":"n/a","color":"#131722","dx":155},
 "encoding":{"x":{"datum":{"year":2021,"month":12,"date":16,"hours":20,"utc":true},"type":"temporal"},"y":{"datum":72.7,"type":"quantitative"}}},
{"data":{"values":[{}]},"mark":{"type":"text","text":"17","color":"#131722","fontSize":9,"fontWeight":"bold","font":"DejaVu Sans"},
 "encoding":{"x":{"datum":{"year":2021,"month":12,"date":16,"utc":true},"type":"temporal"},"y":{"datum":11.08,"type":"quantitative"}}},
{"data":{"values":[{}]},"mark":{"type":"text","text":"TradingView","color":"#131722","fontSize":8.5,"dx":13},
 "encoding":{"x":{"datum":{"year":2021,"month":12,"date":16,"utc":true},"type":"temporal"},"y":{"datum":11.08,"type":"quantitative"}}}
]
}
]
}
